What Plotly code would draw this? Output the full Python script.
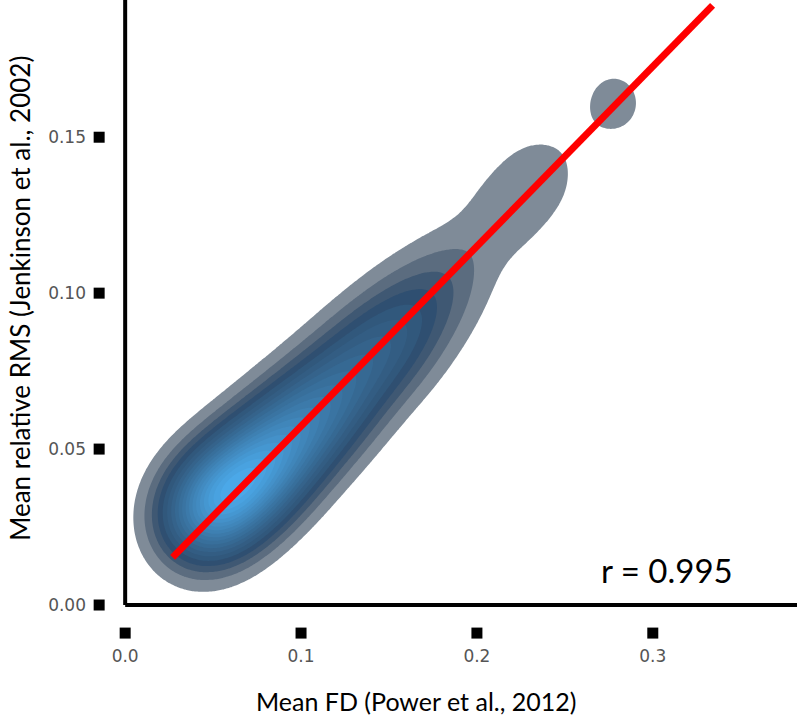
import numpy as np
import plotly.graph_objects as go

# Estimated underlying sample (Mean FD vs Mean relative RMS)
fd = [0.036, 0.039, 0.042, 0.045, 0.047, 0.049, 0.051, 0.053, 0.055, 0.057,
      0.058, 0.060, 0.063, 0.065, 0.068, 0.070, 0.072, 0.074,
      0.076, 0.078, 0.080, 0.083, 0.086, 0.088, 0.091, 0.094, 0.097, 0.100,
      0.103, 0.107, 0.110, 0.114, 0.118, 0.122, 0.126, 0.131, 0.136, 0.141,
      0.147, 0.153, 0.159, 0.166, 0.176, 0.190, 0.215, 0.236, 0.278]
rms = [0.025, 0.026, 0.028, 0.029, 0.030, 0.031, 0.032, 0.033, 0.034, 0.035,
       0.035, 0.036, 0.037, 0.038, 0.040, 0.041, 0.042, 0.043,
       0.044, 0.045, 0.046, 0.047, 0.049, 0.051, 0.052, 0.054, 0.055, 0.058,
       0.058, 0.061, 0.062, 0.065, 0.066, 0.071, 0.070, 0.076, 0.076, 0.082,
       0.082, 0.088, 0.088, 0.096, 0.099, 0.109, 0.125, 0.138, 0.161]

x_ticks = [0.0, 0.1, 0.2, 0.3]
x_tick_labels = ["0.0", "0.1", "0.2", "0.3"]
y_ticks = [0.00, 0.05, 0.10, 0.15]
y_tick_labels = ["0.00", "0.05", "0.10", "0.15"]

fit_x = [0.027, 0.334]
fit_slope = 0.5766
fit_intercept = -0.0003
r_value = 0.995

# data limits of the axes (spines) and the offset tick rows
x_lim = [0.0, 0.382]
y_lim = [0.0, 0.194]
x_tick_row = -0.009     # y position of the x tick squares (offset below spine)
y_tick_col = -0.0148    # x position of the y tick squares (offset left of spine)
x_range = [-0.02, x_lim[1]]
y_range = [-0.0125, y_lim[1]]

# Bivariate Gaussian KDE (product kernel)
bw_x, bw_y = 0.018, 0.0112
gx = np.linspace(-0.02, 0.39, 300)
gy = np.linspace(-0.013, 0.2, 260)
X, Y = np.meshgrid(gx, gy)
dens = np.zeros_like(X)
for a, b in zip(fd, rms):
    dens += np.exp(-0.5 * ((X - a) / bw_x) ** 2 - 0.5 * ((Y - b) / bw_y) ** 2)

n_levels = 20
dmax = dens.max()
step = dmax / n_levels

def hex2rgb(h):
    h = h.lstrip('#')
    return tuple(int(h[i:i + 2], 16) for i in (0, 2, 4))

def lerp(c1, c2, t):
    a, b = hex2rgb(c1), hex2rgb(c2)
    return 'rgb(%d,%d,%d)' % tuple(round(a[i] + (b[i] - a[i]) * t) for i in range(3))

band_colors = ['rgb(255,255,255)', 'rgb(127,139,152)', 'rgb(91,108,127)',
               'rgb(63,88,115)', 'rgb(47,79,113)']
rest = n_levels - len(band_colors)
for i in range(rest):
    t = (i + 1) / rest
    band_colors.append(lerp('#2f5274', '#4ba8e8', t))

cscale = []
for i, c in enumerate(band_colors):
    cscale.append([i / n_levels, c])
    cscale.append([(i + 1) / n_levels, c])

fig = go.Figure()
fig.add_trace(go.Contour(
    x=gx, y=gy, z=dens,
    zmin=0, zmax=dmax, autocontour=False,
    contours=dict(start=step, end=dmax - step * 0.5, size=step,
                  coloring='fill', showlines=False),
    colorscale=cscale, showscale=False, line=dict(width=0),
    hoverinfo='skip'))

fit_y = [fit_slope * v + fit_intercept for v in fit_x]
fig.add_trace(go.Scatter(x=fit_x, y=fit_y, mode='lines',
                         line=dict(color='#ff0000', width=7), hoverinfo='skip'))

# offset tick squares
fig.add_trace(go.Scatter(x=x_ticks, y=[x_tick_row] * len(x_ticks), mode='markers',
                         marker=dict(symbol='square', size=11, color='black'),
                         hoverinfo='skip'))
fig.add_trace(go.Scatter(x=[y_tick_col] * len(y_ticks), y=y_ticks, mode='markers',
                         marker=dict(symbol='square', size=11, color='black'),
                         hoverinfo='skip'))

# spines
shapes = [
    dict(type='line', xref='x', yref='y', x0=x_lim[0], x1=x_lim[0],
         y0=y_lim[0], y1=y_lim[1] + 0.01, line=dict(color='black', width=4), layer='above'),
    dict(type='line', xref='x', yref='y', x0=x_lim[0], x1=x_lim[1] + 0.01,
         y0=y_lim[0], y1=y_lim[0], line=dict(color='black', width=4), layer='above'),
]

title_font = "Lato, 'Open Sans', sans-serif"
tick_font = "'DejaVu Sans', sans-serif"
fig.update_layout(
    width=800, height=720,
    margin=dict(l=90, r=3, t=0, b=76, autoexpand=False),
    paper_bgcolor='white', plot_bgcolor='white',
    showlegend=False,
    font=dict(family=title_font),
    shapes=shapes,
    xaxis=dict(range=x_range, showgrid=False, zeroline=False, showline=False,
               automargin=False, fixedrange=True,
               tickvals=x_ticks, ticktext=x_tick_labels, ticks='',
               tickfont=dict(size=17, family=tick_font, color='#555555')),
    yaxis=dict(range=y_range, showgrid=False, zeroline=False, showline=False,
               automargin=False, fixedrange=True,
               tickvals=y_ticks, ticktext=y_tick_labels, ticks='',
               ticklabelstandoff=3,
               tickfont=dict(size=17, family=tick_font, color='#555555')),
    annotations=[
        dict(x=0.347, y=0.0112, xref='x', yref='y',
             text='r = %.3f' % r_value, showarrow=False,
             xanchor='right', yanchor='middle',
             font=dict(size=33, color='black', family=title_font)),
        dict(x=0.461, y=0.0, xref='paper', yref='paper', yshift=-41,
             text='Mean FD (Power et al., 2012)', showarrow=False,
             xanchor='center', yanchor='top', borderpad=0,
             font=dict(size=25, color='black', family=title_font)),
        dict(x=-0.099, y=0.536, xref='paper', yref='paper', textangle=-90,
             text='Mean relative RMS (Jenkinson et al., 2002)', showarrow=False,
             xanchor='center', yanchor='middle',
             font=dict(size=26, color='black', family=title_font)),
    ],
)

fig.write_html("out.html", config={'displayModeBar': False},
               post_script="document.body.style.margin='0px';")
